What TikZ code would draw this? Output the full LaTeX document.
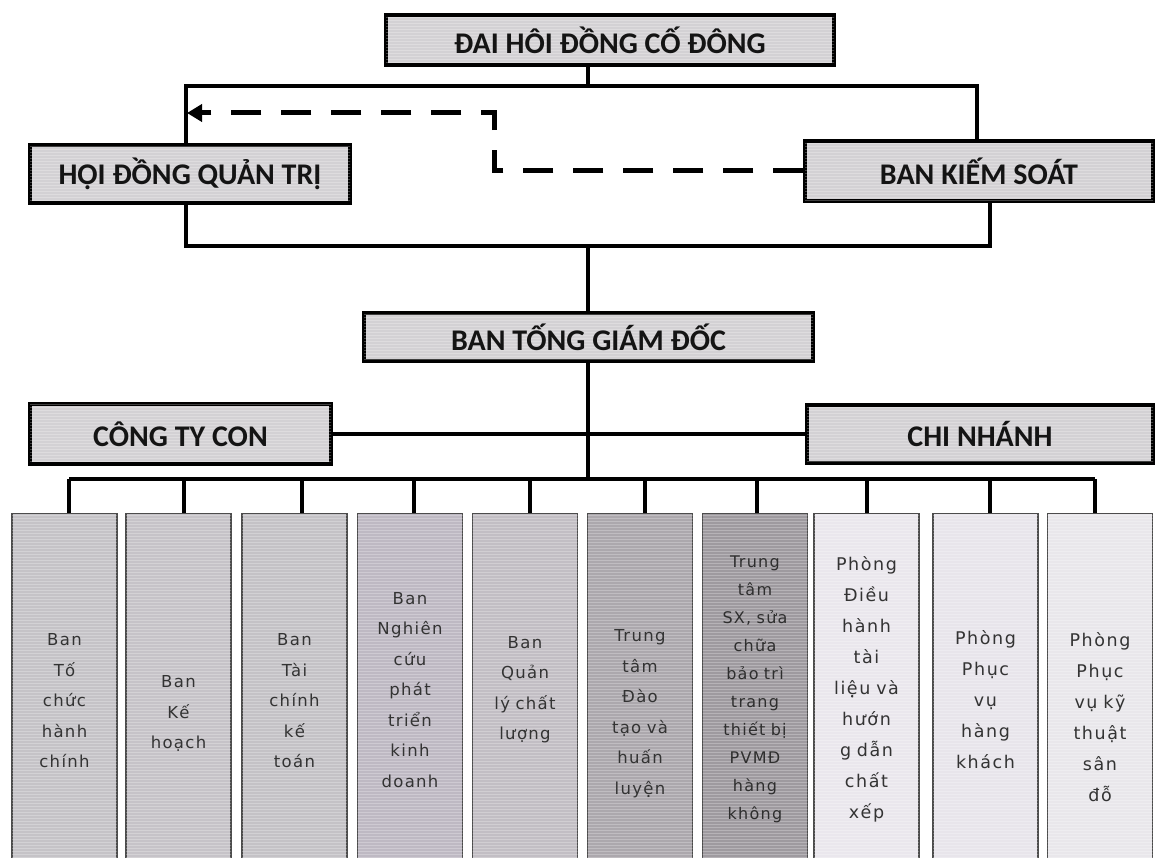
\documentclass[tikz,border=0pt]{standalone}
\usepackage{fontspec}
\setmainfont{Carlito}
\newfontfamily\colfont[LetterSpace=8]{DejaVu Sans}
\newfontfamily\colfontw[LetterSpace=9]{DejaVu Sans}
\usetikzlibrary{arrows.meta,patterns}
\definecolor{hdrfill}{HTML}{D3D1D4}
\definecolor{cA}{HTML}{C5C3C7}
\definecolor{cB}{HTML}{C6C3C8}
\definecolor{cC}{HTML}{C4C2C6}
\definecolor{cD}{HTML}{BEB9C3}
\definecolor{cE}{HTML}{C2BEC4}
\definecolor{cF}{HTML}{ACA8AD}
\definecolor{cG}{HTML}{9E9A9F}
\definecolor{cH}{HTML}{EAE7ED}
\definecolor{cI}{HTML}{E8E5EB}
\definecolor{cJ}{HTML}{E9E7EB}
\definecolor{coltext}{HTML}{333333}
\begin{document}
\begin{tikzpicture}[x=1pt,y=-1pt,
  hdr/.style={draw=black, line width=3.5pt, fill=hdrfill, inner sep=0pt,
    font=\fontsize{30}{32}\selectfont\bfseries, text=black!92,
    postaction={pattern=horizontal lines, pattern color=white, opacity=0.25}},
  colbox/.style={draw=black!70, line width=1.4pt, inner sep=0pt, anchor=north,
    text width=102pt, minimum width=105pt, align=center, text=coltext,
    font=\colfont\fontsize{16.5}{30.5}\selectfont,
    postaction={pattern=horizontal lines, pattern color=white, opacity=0.25}},
  wide/.style={font=\colfontw\fontsize{17.5}{31}\selectfont},
  conn/.style={line width=3.5pt, black},
  dashconn/.style={line width=5pt, black, dash pattern=on 30pt off 20pt,
    -{Triangle[length=15pt,width=17pt]}}]
\clip (0,0) rectangle (1157,858);
\fill[white] (0,0) rectangle (1157,858);

% header boxes
\node[hdr, minimum width=448pt, minimum height=50pt] (T) at (610,40) {ĐAI HÔI ĐỒNG CỐ ĐÔNG};
\node[hdr, minimum width=320pt, minimum height=58pt] (Q) at (190,174) {HỘI ĐỒNG QUẢN TRỊ};
\node[hdr, minimum width=348pt, minimum height=60pt] (K) at (979,171) {BAN KIẾM SOÁT};
\node[hdr, minimum width=449pt, minimum height=48pt] (G) at (588.5,337) {BAN TỐNG GIÁM ĐỐC};
\node[hdr, minimum width=301pt, minimum height=60pt] (C) at (180.5,434) {CÔNG TY CON};
\node[hdr, minimum width=346pt, minimum height=58pt] (N) at (980,434) {CHI NHÁNH};

% column boxes
\node[colbox, fill=cA, minimum height=374pt] (c1) at (64.5,513) {Ban\\Tố\\chức\\hành\\chính};
\node[colbox, fill=cB, minimum height=400pt] (c2) at (178.5,513) {Ban\\Kế\\hoạch};
\node[colbox, fill=cC, minimum height=374pt] (c3) at (294.5,513) {Ban\\Tài\\chính\\kế\\toán};
\node[colbox, fill=cD, minimum height=352pt] (c4) at (410,513) {Ban\\Nghiên\\cứu\\phát\\triển\\kinh\\doanh};
\node[colbox, fill=cE, minimum height=352pt] (c5) at (525,513) {Ban\\Quản\\lý chất\\lượng};
\node[colbox, fill=cF, minimum height=400pt] (c6) at (640,513) {Trung\\tâm\\Đào\\tạo và\\huấn\\luyện};
\node[colbox, fill=cG, minimum height=352pt, text=black!82, font=\colfont\fontsize{16}{28}\selectfont] (c7) at (755,513) {Trung\\tâm\\SX, sửa\\chữa\\bảo trì\\trang\\thiết bị\\PVMĐ\\hàng\\không};
\node[colbox, wide, fill=cH, minimum height=352pt] (c8) at (866.5,513) {Phòng\\Điều\\hành\\tài\\liệu và\\hướn\\g dẫn\\chất\\xếp};
\node[colbox, wide, fill=cI, minimum height=372pt] (c9) at (985.5,513) {Phòng\\Phục\\vụ\\hàng\\khách};
\node[colbox, wide, fill=cJ, minimum height=406pt] (c10) at (1100,513) {Phòng\\Phục\\vụ kỹ\\thuật\\sân\\đỗ};

% connector points
\coordinate (b1m) at (588,86);
\coordinate (b1l) at (186,86);
\coordinate (b1r) at (977,86);
\coordinate (b2m) at (588,246);
\coordinate (b2l) at (186,246);
\coordinate (b2r) at (990,246);
\coordinate (b3m) at (588,479);
\coordinate (b3l) at (69,479);
\coordinate (b3r) at (1095,479);
\coordinate (d1) at (69,479);
\coordinate (d2) at (184,479);
\coordinate (d3) at (302,479);
\coordinate (d4) at (414,479);
\coordinate (d5) at (530,479);
\coordinate (d6) at (645,479);
\coordinate (d7) at (757,479);
\coordinate (d8) at (867,479);
\coordinate (d9) at (990,479);
\coordinate (d10) at (1095,479);
\coordinate (dA) at (494,113);
\coordinate (dB) at (494,171);
\coordinate (dE) at (187,113);

% solid connectors
\draw[conn] (T.south -| b1m) -- (b1m);
\draw[conn] (Q.north -| b1l) -- (b1l) -- (b1r) -- (K.north -| b1r);
\draw[conn] (Q.south -| b2l) -- (b2l) -- (b2r) -- (K.south -| b2r);
\draw[conn] (b2m) -- (G.north -| b2m);
\draw[conn] (G.south -| b3m) -- (b3m);
\draw[conn] (C.east) -- (N.west);
\draw[conn] (b3l) -- (b3r);
\foreach \i in {1,...,10} {
  \draw[conn] (d\i) -- (d\i |- c\i.north);
}

% dashed arrow
\draw[dashconn] (K.west) -- (dB) -- (dA) -- (dE);
\end{tikzpicture}
\end{document}
